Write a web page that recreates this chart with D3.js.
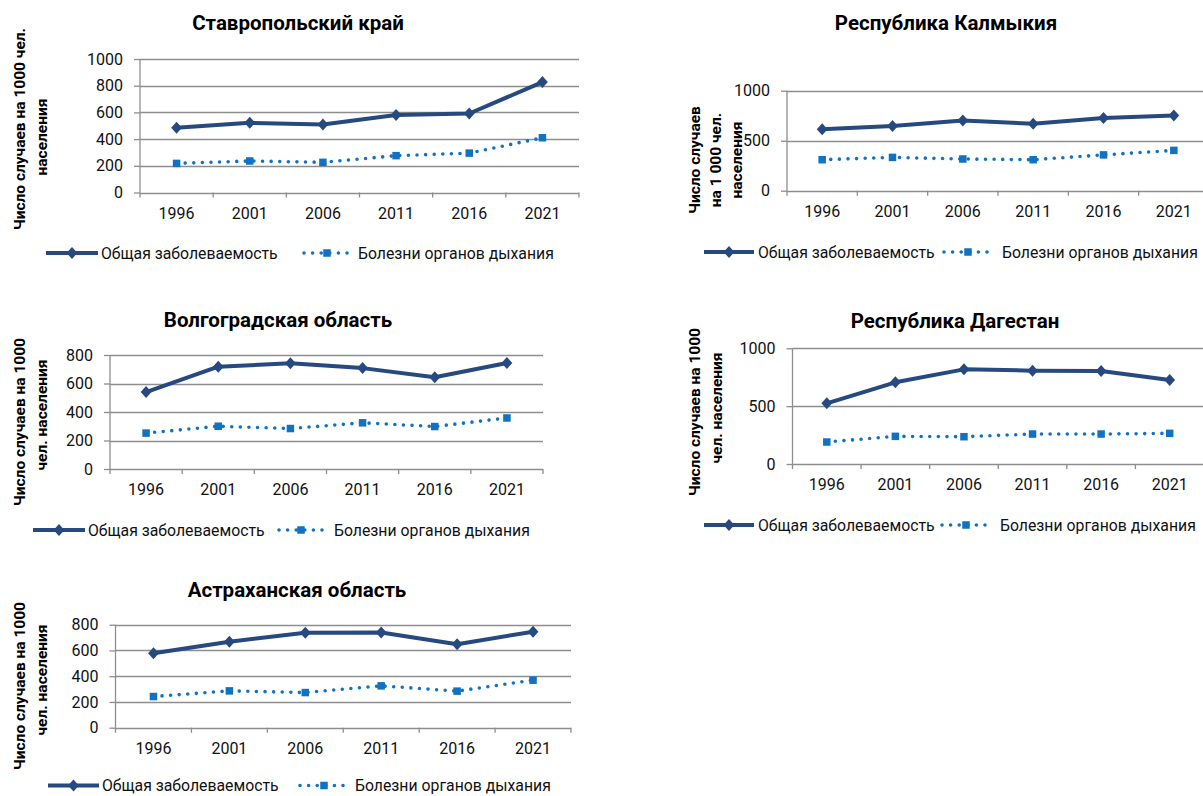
<!DOCTYPE html>
<html lang="ru">
<head>
<meta charset="utf-8">
<script src="https://cdn.jsdelivr.net/npm/d3@7"></script>
<style>
  html, body { margin: 0; padding: 0; background: #ffffff; }
  svg { display: block; font-family: Roboto, "Noto Sans", sans-serif; }
</style>
</head>
<body>
<svg id="chart" width="1203" height="796"></svg>
<script>
// Years shared by every panel
const years = ["1996", "2001", "2006", "2011", "2016", "2021"];

// Series names
const seriesNames = ["Общая заболеваемость", "Болезни органов дыхания"];

// Region titles
const regionNames = [
  "Ставропольский край",
  "Республика Калмыкия",
  "Волгоградская область",
  "Республика Дагестан",
  "Астраханская область"
];

// Incidence per 1000 population: total and respiratory diseases
const stavropolTotal = [485, 522, 510, 580, 592, 827];
const stavropolResp  = [218, 236, 226, 276, 295, 410];

const kalmykiaTotal = [615, 648, 703, 670, 727, 753];
const kalmykiaResp  = [310, 333, 317, 310, 358, 403];

const volgogradTotal = [540, 718, 742, 708, 644, 744];
const volgogradResp  = [252, 300, 284, 324, 298, 358];

const dagestanTotal = [524, 706, 818, 807, 804, 726];
const dagestanResp  = [190, 239, 236, 259, 259, 265];

const astrakhanTotal = [578, 668, 738, 740, 648, 746];
const astrakhanResp  = [242, 286, 273, 325, 284, 369];

// Y tick values per panel
const ticks1000by200 = [0, 200, 400, 600, 800, 1000];
const ticks1000by500 = [0, 500, 1000];
const ticks800by200  = [0, 200, 400, 600, 800];

// Y-axis titles (one entry per line)
const yTitleStavropol = ["Число случаев на 1000 чел.", "населения"];
const yTitleKalmykia  = ["Число случаев", "на 1 000 чел.", "населения"];
const yTitleTwoLine   = ["Число случаев на  1000", "чел. населения"];

const COLOR_TOTAL = "#26497f";
const COLOR_RESP  = "#1272c2";
const COLOR_GRID  = "#8e8e8e";

const FS_TICK = 16, FS_LEGEND = 15.8, FS_TITLE = 20.5, FS_YTITLE = 15.5;

// Panel layout
const panels = [
  {
    title: regionNames[0], total: stavropolTotal, resp: stavropolResp, ticks: ticks1000by200,
    x0: 140, x1: 579, yTop: 59, yBot: 192.5,
    titleX: 298, titleY: 30,
    yTitle: yTitleStavropol, yTitleX: [25, 47], yTitleY: [129, 137],
    legY: 253, leg: { l0: 46, l1: 98, t1: 101, d0: 304, d1: 350, t2: 358 }
  },
  {
    title: regionNames[1], total: kalmykiaTotal, resp: kalmykiaResp, ticks: ticks1000by500,
    x0: 787, x1: 1209, yTop: 90.7, yBot: 190.7,
    titleX: 946, titleY: 30,
    yTitle: yTitleKalmykia, yTitleX: [700, 721, 742], yTitleY: [160, 160, 160],
    legY: 252, leg: { l0: 704, l1: 754, t1: 758, d0: 944, d1: 992, t2: 1002 }
  },
  {
    title: regionNames[2], total: volgogradTotal, resp: volgogradResp, ticks: ticks800by200,
    x0: 110, x1: 543, yTop: 355, yBot: 469,
    titleX: 278, titleY: 327,
    yTitle: yTitleTwoLine, yTitleX: [25, 47], yTitleY: [422, 415],
    legY: 530, leg: { l0: 33, l1: 85, t1: 88, d0: 279, d1: 323, t2: 334 }
  },
  {
    title: regionNames[3], total: dagestanTotal, resp: dagestanResp, ticks: ticks1000by500,
    x0: 792.5, x1: 1204, yTop: 348.3, yBot: 464,
    titleX: 955, titleY: 328,
    yTitle: yTitleTwoLine.map(s => s.replace("  ", " ")), yTitleX: [700, 722], yTitleY: [412, 408],
    legY: 525, leg: { l0: 704, l1: 754, t1: 758, d0: 942, d1: 990, t2: 1000 }
  },
  {
    title: regionNames[4], total: astrakhanTotal, resp: astrakhanResp, ticks: ticks800by200,
    x0: 115.5, x1: 571, yTop: 624.7, yBot: 727.7,
    titleX: 297, titleY: 597,
    yTitle: yTitleTwoLine, yTitleX: [25, 47], yTitleY: [686, 680],
    legY: 785.5, leg: { l0: 48, l1: 99, t1: 102, d0: 300, d1: 348, t2: 355 }
  }
];

const svg = d3.select("#chart");

const diamondPath = "M0,-6L5.4,0L0,6L-5.4,0Z";
const squareSize = 7.5;

function drawPanel(p) {
  const g = svg.append("g");
  const x = d3.scaleBand().domain(years).range([p.x0, p.x1]).padding(0);
  const y = d3.scaleLinear().domain([0, d3.max(p.ticks)]).range([p.yBot, p.yTop]);

  // gridlines
  g.append("g").selectAll("line").data(p.ticks).join("line")
    .attr("x1", p.x0).attr("x2", p.x1)
    .attr("y1", d => Math.round(y(d)) + 0.5).attr("y2", d => Math.round(y(d)) + 0.5)
    .attr("stroke", COLOR_GRID).attr("stroke-width", 1.3);

  // y axis with labels
  const yAxis = d3.axisLeft(y).tickValues(p.ticks).tickSize(6).tickPadding(11).tickFormat(d3.format("d"));
  const ya = g.append("g").attr("transform", `translate(${p.x0},0)`).call(yAxis);
  ya.select(".domain").attr("stroke", COLOR_GRID).attr("stroke-width", 1.3)
    .attr("d", `M0,${p.yTop}V${p.yBot}`);
  ya.selectAll(".tick line").attr("stroke", COLOR_GRID).attr("stroke-width", 1.3);
  ya.selectAll(".tick text").attr("font-size", FS_TICK).attr("fill", "#111").attr("font-family", "Roboto, sans-serif");

  // x axis: labels centred in bands, tick marks on band boundaries
  const xAxis = d3.axisBottom(x).tickSize(0).tickPadding(15);
  const xa = g.append("g").attr("transform", `translate(0,${p.yBot})`).call(xAxis);
  xa.select(".domain").remove();
  xa.selectAll(".tick text").attr("font-size", FS_TICK).attr("fill", "#111").attr("font-family", "Roboto, sans-serif");
  const bounds = years.map(d => x(d)).concat([x(years[years.length - 1]) + x.bandwidth()]);
  g.append("g").selectAll("line").data(bounds).join("line")
    .attr("x1", d => d).attr("x2", d => d)
    .attr("y1", p.yBot).attr("y2", p.yBot + 5)
    .attr("stroke", COLOR_GRID).attr("stroke-width", 1.3);

  const cx = (d, i) => x(years[i]) + x.bandwidth() / 2;

  // respiratory diseases: dotted line with squares
  const line = d3.line().x((d, i) => cx(d, i)).y(d => y(d));
  g.append("path").datum(p.resp)
    .attr("d", line).attr("fill", "none")
    .attr("stroke", COLOR_RESP).attr("stroke-width", 3.6)
    .attr("stroke-linecap", "round").attr("stroke-dasharray", "0 8.6");
  g.append("g").selectAll("rect").data(p.resp).join("rect")
    .attr("x", (d, i) => cx(d, i) - squareSize / 2).attr("y", d => y(d) - squareSize / 2)
    .attr("width", squareSize).attr("height", squareSize)
    .attr("fill", COLOR_RESP);

  // total incidence: solid line with diamonds
  g.append("path").datum(p.total)
    .attr("d", line).attr("fill", "none")
    .attr("stroke", COLOR_TOTAL).attr("stroke-width", 4)
    .attr("stroke-linejoin", "round");
  g.append("g").selectAll("path").data(p.total).join("path")
    .attr("d", diamondPath)
    .attr("transform", (d, i) => `translate(${cx(d, i)},${y(d)})`)
    .attr("fill", COLOR_TOTAL);

  // title
  g.append("text").attr("x", p.titleX).attr("y", p.titleY)
    .attr("text-anchor", "middle").attr("font-size", FS_TITLE).attr("font-weight", "bold")
    .attr("fill", "#000").text(p.title);

  // y-axis title
  p.yTitle.forEach((s, i) => {
    g.append("text")
      .attr("transform", `translate(${p.yTitleX[i]},${p.yTitleY[i]}) rotate(-90)`)
      .attr("text-anchor", "middle").attr("font-size", FS_YTITLE).attr("font-weight", "bold")
      .attr("fill", "#000").text(s);
  });

  // legend
  const L = p.leg, ly = p.legY;
  g.append("line").attr("x1", L.l0).attr("x2", L.l1).attr("y1", ly).attr("y2", ly)
    .attr("stroke", COLOR_TOTAL).attr("stroke-width", 4);
  g.append("path").attr("d", diamondPath)
    .attr("transform", `translate(${(L.l0 + L.l1) / 2},${ly})`).attr("fill", COLOR_TOTAL);
  g.append("text").attr("x", L.t1).attr("y", ly).attr("dy", "0.36em")
    .attr("font-size", FS_LEGEND).attr("fill", "#111").text(seriesNames[0]);

  g.append("line").attr("x1", L.d0).attr("x2", L.d1).attr("y1", ly).attr("y2", ly)
    .attr("stroke", COLOR_RESP).attr("stroke-width", 3.6)
    .attr("stroke-linecap", "round").attr("stroke-dasharray", "0 8.6");
  g.append("rect")
    .attr("x", (L.d0 + L.d1) / 2 - squareSize / 2).attr("y", ly - squareSize / 2)
    .attr("width", squareSize).attr("height", squareSize).attr("fill", COLOR_RESP);
  g.append("text").attr("x", L.t2).attr("y", ly).attr("dy", "0.36em")
    .attr("font-size", FS_LEGEND).attr("fill", "#111").text(seriesNames[1]);
}

panels.forEach(drawPanel);
</script>
</body>
</html>
